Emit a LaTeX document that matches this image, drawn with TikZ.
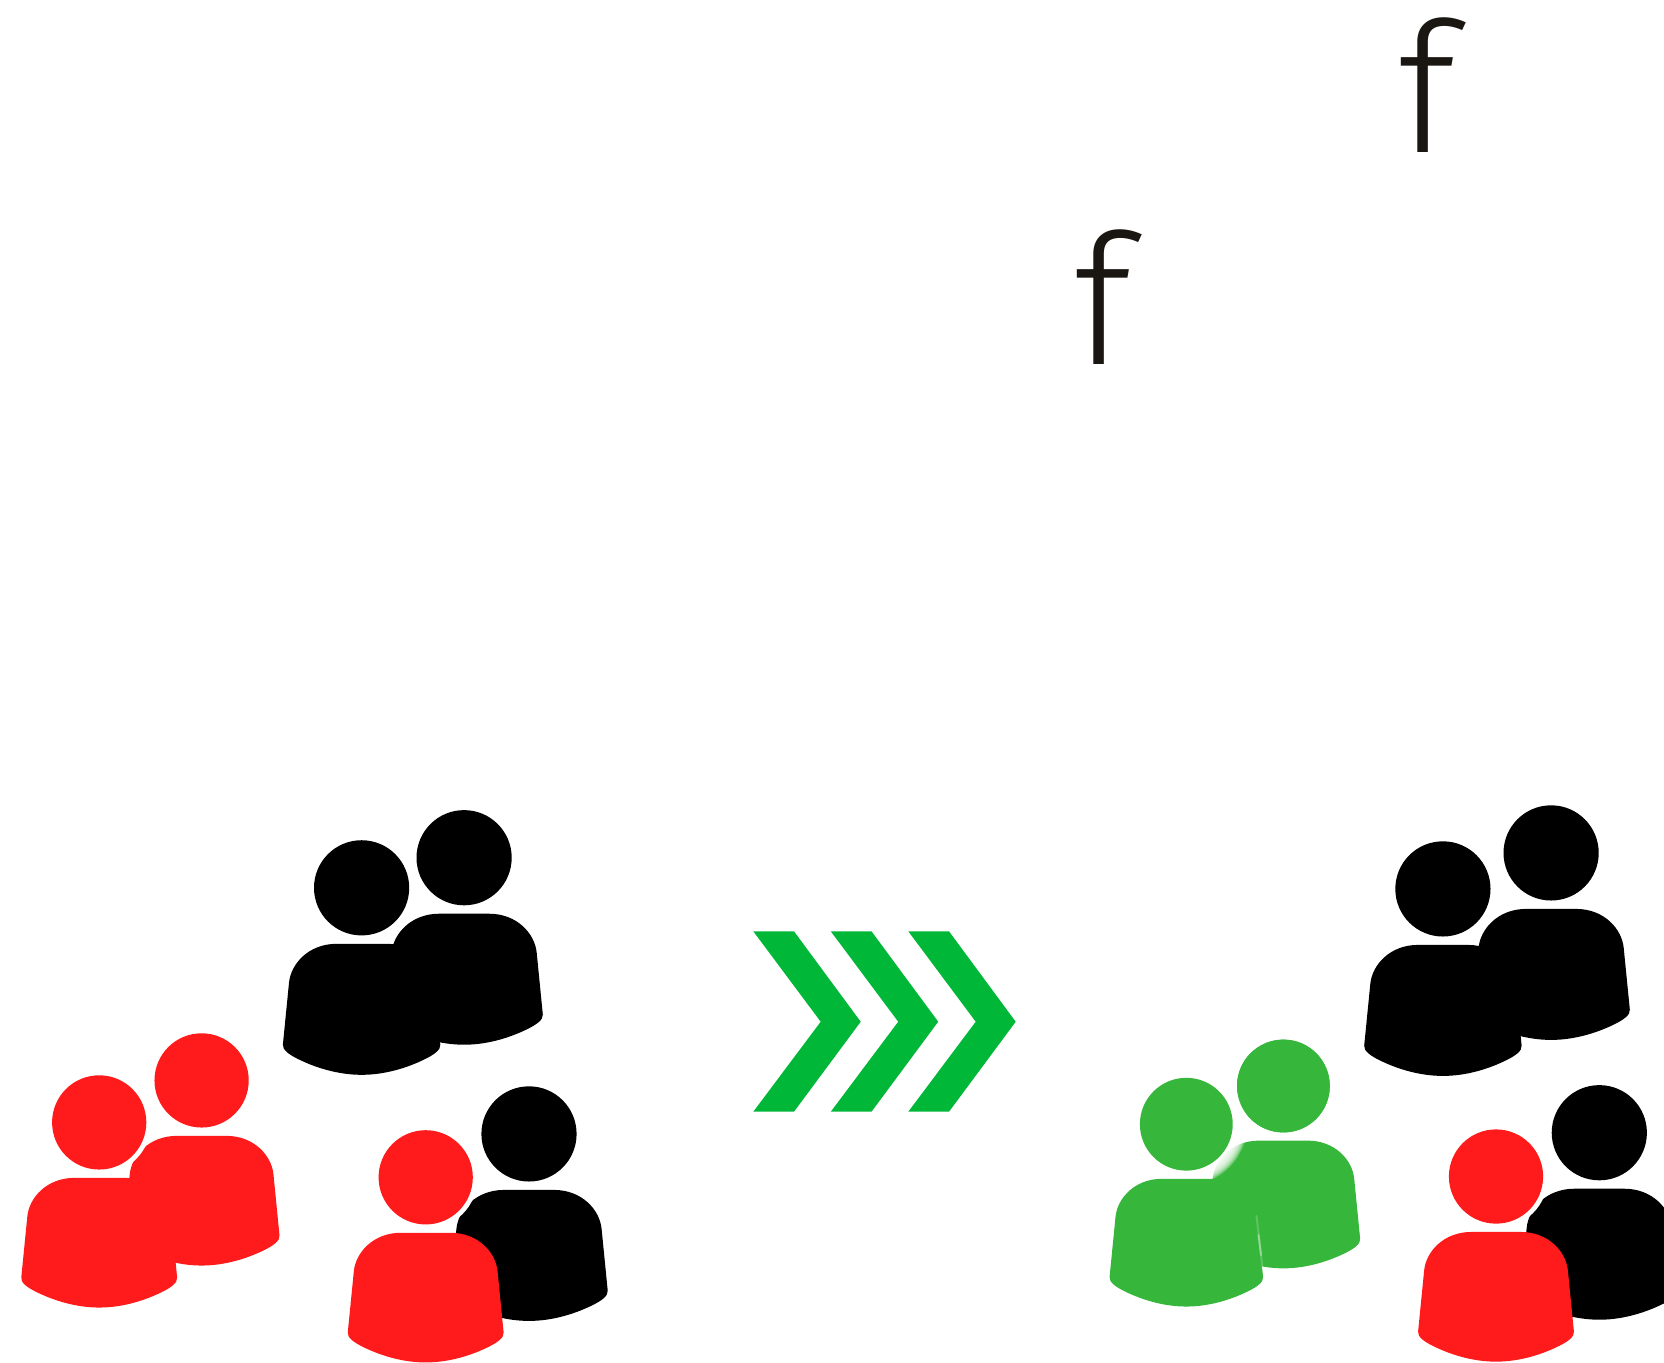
\documentclass[tikz,border=0pt]{standalone}
\usepackage{fontspec}
\newfontfamily\glyphfont{Fira Sans Light}
\definecolor{pred}{RGB}{255,27,27}
\definecolor{pgreen}{RGB}{54,182,58}
\definecolor{arrowgreen}{RGB}{0,183,56}
\definecolor{inkf}{RGB}{26,22,18}
\tikzset{
  x=0.5pt,y=-0.5pt,
  person/.pic={
    \fill[#1] (0,0) circle [radius=47.6];
    \fill[#1] (-25,56) -- (25,56)
      .. controls (53,56) and (70.8,76) .. (72.6,95)
      -- (78.7,156.6)
      .. controls (79.5,162) and (72,167) .. (64,171)
      .. controls (48,179) and (25,187) .. (0,187)
      .. controls (-25,187) and (-48,179) .. (-64,171)
      .. controls (-72,167) and (-79.5,162) .. (-78.7,156.6)
      -- (-72.6,95)
      .. controls (-70.8,76) and (-53,56) .. (-25,56) -- cycle;
  },
  head/.pic={\fill[#1] (0,0) circle [radius=47.6];},
  halo/.pic={\fill[white] (0,0) circle [radius=52];},
  softhalo/.pic={\foreach \r in {61,60,...,50}{\fill[white,opacity=.22] (0,0) circle [radius=\r];}},
  chevron/.pic={
    \fill[arrowgreen] (0,0) -- (40.7,0) -- (107.4,90.4) -- (40.7,180.4) -- (0,180.4) -- (67.4,90.4) -- cycle;
  },
  glyph/.style={inner sep=0pt,outer sep=0pt,anchor=base west,text=inkf,font=\glyphfont\fontsize{90.7}{90.7}\selectfont},
  softedge/.style={white,line width=1pt,line cap=round}
}
\begin{document}
\begin{tikzpicture}
\useasboundingbox (0,0) rectangle (1664,1362);
\clip (0,0) rectangle (1664,1362);
% f letters
\node[glyph] (f1) at (1397.5,152.7) {f};
\node[glyph] (f2) at (1073.8,364) {f};
% left: black pair
\pic at (464.1,857.7) {person=black};
\pic at (361.6,887.8) {person=black};
% left: red pair
\pic[scale=.99] at (201.6,1080.4) {person=pred};
\pic at (99.2,1122.4) {halo};
\pic[scale=.99] at (99.2,1122.4) {person=pred};
% left: black and red
\pic at (529,1133.9) {person=black};
\pic at (425.7,1177.3) {halo};
\pic[scale=.99] at (425.7,1177.3) {person=pred};
% chevrons
\pic at (753.3,931.3) {chevron};
\pic at (830.8,931.3) {chevron};
\pic at (908.3,931.3) {chevron};
% right: black pair
\pic at (1551.1,852.9) {person=black};
\pic at (1442.9,888.9) {person=black};
% right: green pair
\pic[scale=.975] at (1283.4,1086) {person=pgreen};
\pic at (1186.3,1124.2) {softhalo};
\pic[scale=.975] at (1283.4,1086) {head=pgreen};
\pic[scale=.975] at (1186.3,1124.2) {person=pgreen};
\coordinate (ea) at (1256.5,1216);
\coordinate (eb) at (1258.5,1235);
\coordinate (ec) at (1261,1255);
\coordinate (ed) at (1262.5,1268);
\draw[softedge,opacity=.2] (ea) -- (ed);
\draw[softedge,opacity=.35] (eb) -- (ec);
% right: black and red
\pic at (1599.3,1132.7) {person=black};
\pic at (1496,1176.5) {halo};
\pic[scale=.99] at (1496,1176.5) {person=pred};
\end{tikzpicture}
\end{document}
